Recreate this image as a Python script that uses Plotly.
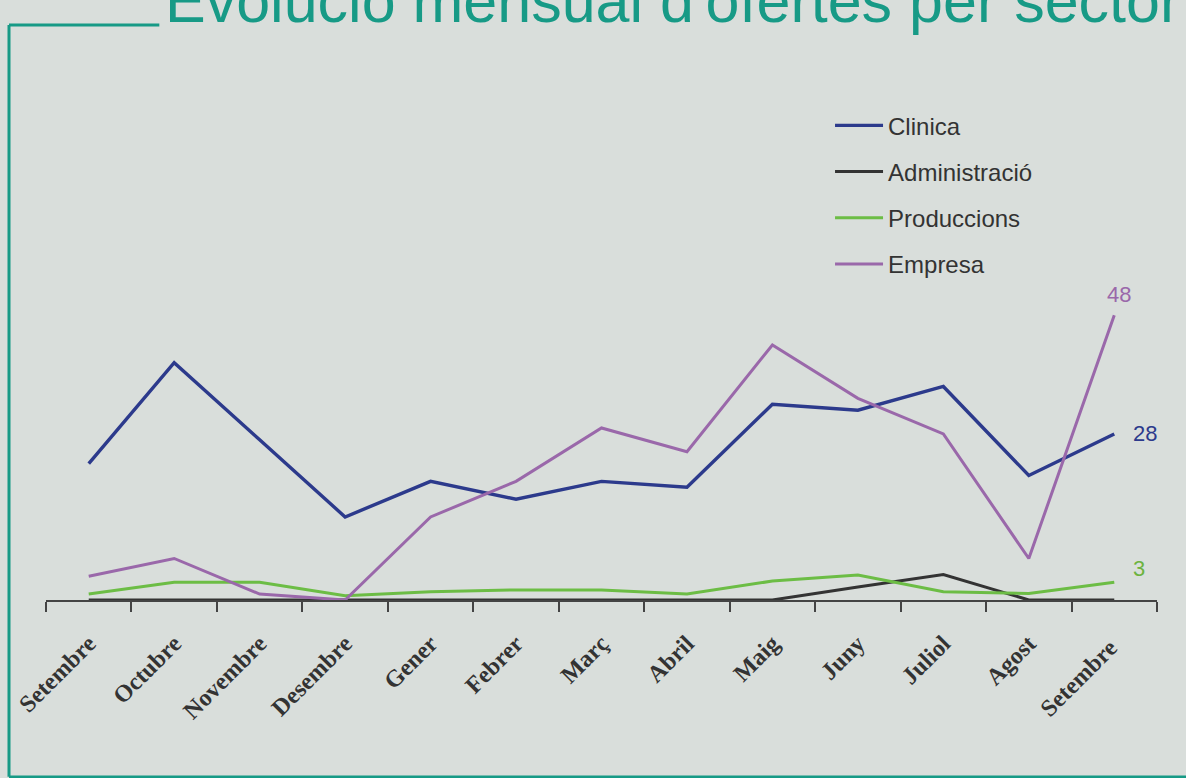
import plotly.graph_objects as go

months = ["Setembre", "Octubre", "Novembre", "Desembre", "Gener", "Febrer", "Març",
          "Abril", "Maig", "Juny", "Juliol", "Agost", "Setembre "]
clinica = [23, 40, 27, 14, 20, 17, 20, 19, 33, 32, 36, 21, 28]
administracio = [0, 0, 0, 0, 0, 0, 0, 0, 0, 2.2, 4.3, 0, 0]
produccions = [1, 3, 3, 0.7, 1.4, 1.7, 1.7, 1, 3.2, 4.2, 1.4, 1.1, 3]
empresa = [4, 7, 1, 0, 14, 20, 29, 25, 43, 34, 28, 7, 48]

series = [
    ("Clinica", clinica, "#2c3a8c", 3.4),
    ("Administració", administracio, "#333333", 3.0),
    ("Produccions", produccions, "#6cbd45", 3.0),
    ("Empresa", empresa, "#9a68aa", 3.0),
]

title_text = "Evolució mensual d'ofertes per sector"
teal = "#179a86"
bg = "#d9dedb"

fig = go.Figure()
for name, vals, col, w in series:
    fig.add_trace(go.Scatter(
        x=months, y=vals, name=name, mode="lines",
        line=dict(color=col, width=w), legendgroup=name, cliponaxis=False,
    ))

# end labels
end_labels = [(empresa, "#9a68aa", "center", 5, 21),
              (clinica, "#2c3a8c", "left", 17, 0),
              (produccions, "#6cb33f", "left", 17, 14)]
for vals, col, anchor, xs, ys in end_labels:
    fig.add_annotation(x=months[-1], y=vals[-1], text=str(vals[-1]), showarrow=False,
                       xanchor=anchor, yanchor="middle", xshift=xs, yshift=ys,
                       font=dict(family="Liberation Sans", size=22, color=col))

# title (cut off at top edge, as in the original)
fig.add_annotation(xref="paper", yref="paper", x=0.105, y=0.9884, text=title_text,
                   showarrow=False, xanchor="left", yanchor="bottom",
                   font=dict(family="Liberation Sans", size=61, color=teal))

# frame
fig.add_shape(type="line", xref="paper", yref="paper", x0=-0.0333, x1=-0.0333,
              y0=1.0088, y1=-0.31, line=dict(color=teal, width=3))
fig.add_shape(type="line", xref="paper", yref="paper", x0=-0.0333, x1=0.102,
              y0=1.0088, y1=1.0088, line=dict(color=teal, width=3))
fig.add_shape(type="line", xref="paper", yref="paper", x0=-0.0333, x1=1.03,
              y0=-0.3105, y1=-0.3105, line=dict(color=teal, width=3))

fig.update_layout(
    width=1186, height=778,
    margin=dict(l=46, r=29, t=30, b=178),
    paper_bgcolor=bg, plot_bgcolor=bg,
    showlegend=True,
    legend=dict(x=0.7057, y=0.8715, xanchor="left", yanchor="top",
                bgcolor="rgba(0,0,0,0)", tracegroupgap=12, itemwidth=48,
                font=dict(family="Liberation Sans", size=24, color="#333333")),
    xaxis=dict(type="category", range=[-0.5, 12.5], showgrid=False, zeroline=False,
               showline=True, linecolor="#444444", linewidth=2,
               ticks="outside", tickson="boundaries", ticklen=10, tickwidth=1.5, tickcolor="#444444",
               tickangle=-45, ticklabelstandoff=18,
               tickfont=dict(family="Liberation Serif", size=24, color="#333333", weight="bold")),
    yaxis=dict(visible=False, range=[0, 96.1], fixedrange=True),
)

fig.write_html("out.html", config={"displayModeBar": False},
               post_script="document.body.style.margin='0';")
